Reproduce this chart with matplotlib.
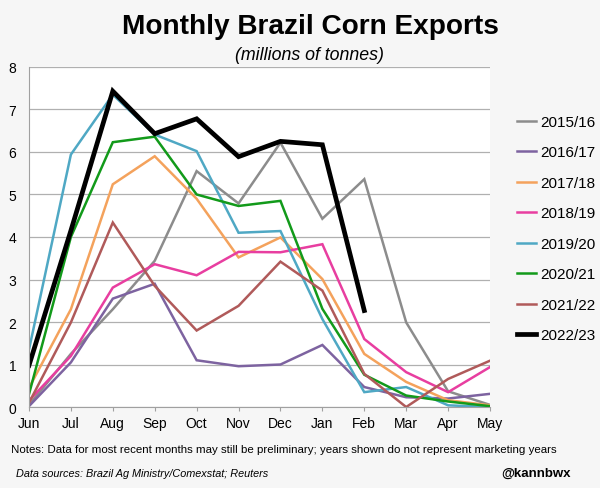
import numpy as np
import matplotlib.pyplot as plt

plt.rcParams['font.family'] = ['Liberation Sans', 'DejaVu Sans']

# Data (millions of tonnes)
months = ['Jun', 'Jul', 'Aug', 'Sep', 'Oct', 'Nov', 'Dec', 'Jan', 'Feb', 'Mar', 'Apr', 'May']
y2015 = [0.05, 1.25, 2.3, 3.44, 5.55, 4.79, 6.22, 4.43, 5.36, 1.99, 0.37, 0.05]
y2016 = [0.02, 1.05, 2.55, 2.9, 1.1, 0.96, 1.0, 1.46, 0.47, 0.23, 0.2, 0.31]
y2017 = [0.45, 2.3, 5.24, 5.9, 4.9, 3.52, 3.99, 3.01, 1.25, 0.59, 0.16, 0.04]
y2018 = [0.15, 1.2, 2.81, 3.36, 3.1, 3.65, 3.64, 3.83, 1.6, 0.82, 0.35, 0.94]
y2019 = [1.35, 5.94, 7.35, 6.41, 6.02, 4.1, 4.14, 2.07, 0.35, 0.47, 0.04, 0.0]
y2020 = [0.3, 4.0, 6.23, 6.36, 5.0, 4.73, 4.85, 2.31, 0.76, 0.27, 0.13, 0.02]
y2021 = [0.1, 1.99, 4.34, 2.85, 1.8, 2.38, 3.42, 2.74, 0.78, 0.0, 0.66, 1.09]
y2022 = [0.98, 4.15, 7.43, 6.43, 6.78, 5.89, 6.25, 6.17, 2.27]

series = [
    ('2015/16', y2015, '#8c8c8c', 1.8),
    ('2016/17', y2016, '#7d63a0', 1.8),
    ('2017/18', y2017, '#f4a25c', 1.8),
    ('2018/19', y2018, '#e83ea0', 1.8),
    ('2019/20', y2019, '#4fa8c4', 1.8),
    ('2020/21', y2020, '#129a1a', 1.8),
    ('2021/22', y2021, '#b05a5a', 1.8),
    ('2022/23', y2022, '#000000', 3.4),
]

bg = '#f6f6f6'
fig = plt.figure(figsize=(6, 4.89), dpi=100, facecolor=bg)
ax = fig.add_axes([0.0483, 0.1656, 0.7684, 0.6954])
ax.set_facecolor('white')

x = np.arange(len(months))
for label, vals, color, lw in series:
    ax.plot(x[:len(vals)], vals, color=color, lw=lw, label=label,
            solid_joinstyle='miter')

ax.set_xlim(0, 11)
ax.set_ylim(0, 8)
ax.set_xticks(x)
ax.set_xticklabels(months)
ax.set_yticks(range(9))
ax.grid(axis='y', color='#b0b0b0', lw=0.9)
ax.set_axisbelow(True)
for s in ['top', 'right']:
    ax.spines[s].set_visible(False)
for s in ['left', 'bottom']:
    ax.spines[s].set_color('#a0a0a0')
ax.tick_params(axis='both', colors='#a0a0a0', labelcolor='black',
               labelsize=10, length=3)
ax.tick_params(axis='y', length=0, pad=9)

leg = ax.legend(loc='upper left', bbox_to_anchor=(0.862, 0.763),
                bbox_transform=fig.transFigure, frameon=False,
                borderaxespad=0, borderpad=0,
                fontsize=11, handlelength=1.2, handletextpad=0.3,
                labelspacing=1.08)

fig.text(0.518, 0.945, 'Monthly Brazil Corn Exports', ha='center', va='center',
         fontsize=20.2, fontweight='bold')
fig.text(0.516, 0.886, '(millions of tonnes)', ha='center', va='center',
         fontsize=12.8, style='italic')
fig.text(0.018, 0.080, 'Notes: Data for most recent months may still be preliminary; '
         'years shown do not represent marketing years', ha='left', va='center',
         fontsize=8.26)
fig.text(0.026, 0.031, 'Data sources: Brazil Ag Ministry/Comexstat; Reuters',
         ha='left', va='center', fontsize=7.8, style='italic')
fig.text(0.952, 0.032, '@kannbwx', ha='right', va='center',
         fontsize=9.5, fontweight='bold')

fig.savefig('out.png', dpi=100, facecolor=bg)
